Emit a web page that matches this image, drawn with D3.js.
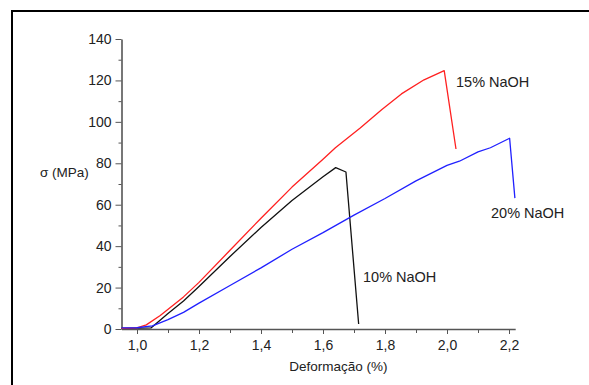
<!DOCTYPE html>
<html>
<head>
<meta charset="utf-8">
<script src="https://cdn.jsdelivr.net/npm/d3@7"></script>
<style>
  body { margin: 0; background: #fff; }
  svg { display: block; font-family: "Liberation Sans", Arial, sans-serif; }
  .axis path, .axis line { stroke: #555; }
  .axis path { stroke-width: 1.6; }
  .axis text { fill: #222; font-size: 14px; }
</style>
</head>
<body>
<div id="chart"></div>
<script>
// strain (%) / stress (MPa)
const naoh10 = [
  [0.95, 0.3], [1.045, 0.5], [1.1, 7.5], [1.15, 13.5], [1.2, 20.5], [1.3, 35], [1.4, 49],
  [1.5, 62], [1.6, 73.5], [1.641, 77.9], [1.674, 75.8], [1.715, 2.4]
];
const naoh15 = [
  [0.95, 0.3], [1.0, 0.5], [1.03, 2], [1.075, 6.5], [1.15, 15.5], [1.2, 22.5], [1.3, 38],
  [1.4, 53.5], [1.5, 68.5], [1.6, 82], [1.64, 87.5], [1.72, 97], [1.79, 106],
  [1.853, 113.5], [1.926, 120.3], [1.991, 124.7], [2.029, 86.9]
];
const naoh20 = [
  [0.95, 0.5], [1.0, 0.6], [1.05, 1.5], [1.1, 4.5], [1.15, 8], [1.2, 12.5], [1.3, 21],
  [1.4, 29.5], [1.5, 38.5], [1.6, 46.5], [1.7, 55], [1.8, 63], [1.9, 71.5], [2.0, 79],
  [2.04, 81], [2.1, 85.5], [2.14, 87.5], [2.202, 92.1], [2.219, 63.2]
];
const series = [
  { name: "10% NaOH", data: naoh10, color: "#111", label: [363, 282] },
  { name: "15% NaOH", data: naoh15, color: "#ff2020", label: [456, 87] },
  { name: "20% NaOH", data: naoh20, color: "#2020ff", label: [491, 218] }
];
const xTicks = [1.0, 1.2, 1.4, 1.6, 1.8, 2.0, 2.2];
const xMinor = [1.1, 1.3, 1.5, 1.7, 1.9, 2.1];
const yTicks = [0, 20, 40, 60, 80, 100, 120, 140];
const yMinor = [10, 30, 50, 70, 90, 110, 130];

const width = 589, height = 385;
const svg = d3.select("#chart").append("svg")
  .attr("width", width).attr("height", height);

// frame
svg.append("rect")
  .attr("x", 12).attr("y", 11)
  .attr("width", 600).attr("height", 400)
  .attr("fill", "none").attr("stroke", "#000").attr("stroke-width", 2);

const xScale = d3.scaleLinear().domain([0.95, 2.22]).range([121.5, 515.2]);
const yScale = d3.scaleLinear().domain([0, 140]).range([329, 39]);
const comma = (d) => d3.format(".1f")(d).replace(".", ",");

// axes
svg.append("g").attr("class", "axis")
  .attr("transform", `translate(0, ${yScale(0)})`)
  .call(d3.axisBottom(xScale).tickValues(xTicks).tickFormat(comma).tickSize(5).tickSizeOuter(0).tickPadding(6));
svg.append("g").attr("class", "axis")
  .attr("transform", `translate(0, ${yScale(0)})`)
  .call(d3.axisBottom(xScale).tickValues(xMinor).tickFormat("").tickSize(4).tickSizeOuter(0))
  .select(".domain").remove();

svg.append("g").attr("class", "axis")
  .attr("transform", `translate(${xScale(0.95)}, 0)`)
  .call(d3.axisLeft(yScale).tickValues(yTicks).tickSize(6).tickSizeOuter(0).tickPadding(4));
svg.append("g").attr("class", "axis")
  .attr("transform", `translate(${xScale(0.95)}, 0)`)
  .call(d3.axisLeft(yScale).tickValues(yMinor).tickFormat("").tickSize(3).tickSizeOuter(0))
  .select(".domain").remove();

// titles
svg.append("text")
  .attr("x", (xScale(0.95) + xScale(2.22)) / 2 + 20).attr("y", 371)
  .attr("text-anchor", "middle").attr("font-size", 13.5).attr("fill", "#222")
  .text("Deformação (%)");
svg.append("text")
  .attr("x", 40).attr("y", 177)
  .attr("font-size", 13.5).attr("fill", "#222")
  .text("σ (MPa)");

// curves
const line = d3.line()
  .x((d) => xScale(d[0]))
  .y((d) => yScale(d[1]));

svg.selectAll(".curve")
  .data(series)
  .enter()
  .append("path")
  .attr("class", "curve")
  .attr("d", (d) => line(d.data))
  .attr("fill", "none")
  .attr("stroke", (d) => d.color)
  .attr("stroke-width", 1.3)
  .attr("stroke-linejoin", "round");

svg.selectAll(".curve-label")
  .data(series)
  .enter()
  .append("text")
  .attr("class", "curve-label")
  .attr("x", (d) => d.label[0])
  .attr("y", (d) => d.label[1])
  .attr("font-size", 14.5)
  .attr("fill", "#222")
  .text((d) => d.name);
</script>
</body>
</html>
